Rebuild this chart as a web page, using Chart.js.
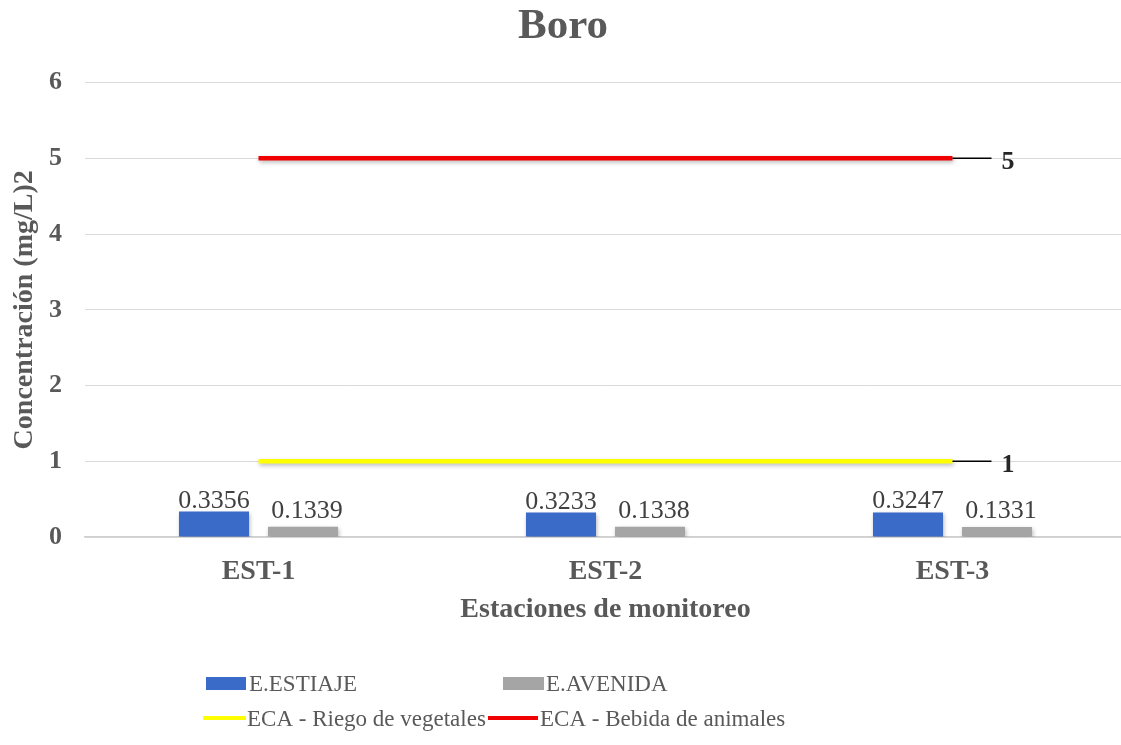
<!DOCTYPE html>
<html>
<head>
<meta charset="utf-8">
<script src="https://cdn.jsdelivr.net/npm/chart.js@4.4.1/dist/chart.umd.min.js"></script>
<style>
  html, body { margin: 0; padding: 0; background: #fff; overflow: hidden; }
  #wrap { position: relative; width: 1121px; height: 745px; overflow: hidden; }
  #c { position: absolute; left: 0; top: 0; }
</style>
</head>
<body>
<div id="wrap">
  <canvas id="c" width="1131" height="745"></canvas>
</div>
<script>
// ---- data ----
const categories = ['EST-1', 'EST-2', 'EST-3'];
const estiaje = [0.3356, 0.3233, 0.3247];
const avenida = [0.1339, 0.1338, 0.1331];
const ecaRiego = [1, 1, 1];
const ecaBebida = [5, 5, 5];
const seriesNames = ['E.ESTIAJE', 'E.AVENIDA', 'ECA - Riego de vegetales', 'ECA - Bebida de animales'];
const yMin = 0, yMax = 6, yStep = 1;

const FONT = "'Liberation Serif', 'Times New Roman', serif";
const BLUE = '#3B6BC8', GRAY = '#A5A5A5', YELLOW = '#FFFF00', RED = '#F00000';

const shadowPlugin = {
  id: 'shadow',
  beforeDatasetDraw(chart) {
    const ctx = chart.ctx;
    ctx.save();
    ctx.shadowColor = 'rgba(0,0,0,0.28)';
    ctx.shadowBlur = 4;
    ctx.shadowOffsetX = 1;
    ctx.shadowOffsetY = 2;
  },
  afterDatasetDraw(chart) { chart.ctx.restore(); }
};

const labelOffsets = [{ dx: 0, dy: 4 }, { dx: 4, dy: 9 }];

const labelPlugin = {
  id: 'valueLabels',
  afterDatasetsDraw(chart) {
    const ctx = chart.ctx;
    ctx.save();
    chart.data.datasets.forEach((ds, i) => {
      const meta = chart.getDatasetMeta(i);
      if (ds.type === 'bar') {
        const off = labelOffsets[i];
        ctx.font = '26px ' + FONT;
        ctx.fillStyle = '#404040';
        ctx.textAlign = 'center';
        ctx.textBaseline = 'alphabetic';
        meta.data.forEach((el, j) => {
          ctx.fillText(ds.data[j].toFixed(4), el.x + off.dx, el.y - off.dy);
        });
      } else {
        const last = meta.data[meta.data.length - 1];
        ctx.strokeStyle = '#000';
        ctx.lineWidth = 1.5;
        ctx.beginPath();
        ctx.moveTo(last.x, last.y);
        ctx.lineTo(last.x + 39, last.y);
        ctx.stroke();
        ctx.font = 'bold 26px ' + FONT;
        ctx.fillStyle = '#262626';
        ctx.textAlign = 'left';
        ctx.textBaseline = 'alphabetic';
        ctx.fillText(String(ds.data[ds.data.length - 1]), last.x + 49, last.y + 11);
      }
    });
    ctx.restore();
  }
};

// legend layout (2 x 2 grid)
const legendPos = [
  { sx: 206, sw: 40, sy: 677, sh: 13, tx: 249, ty: 691 },
  { sx: 503, sw: 41, sy: 677, sh: 13, tx: 546, ty: 691 },
  { sx: 203, sw: 43, sy: 716, sh: 4, tx: 247, ty: 726 },
  { sx: 488, sw: 50, sy: 716, sh: 4, tx: 540, ty: 726 }
];

const legendPlugin = {
  id: 'gridLegend',
  afterDraw(chart) {
    const ctx = chart.ctx;
    ctx.save();
    ctx.font = '23px ' + FONT;
    ctx.fillStyle = '#595959';
    ctx.textAlign = 'left';
    ctx.textBaseline = 'alphabetic';
    chart.data.datasets.forEach((ds, i) => {
      const p = legendPos[i];
      ctx.fillStyle = ds.type === 'bar' ? ds.backgroundColor : ds.borderColor;
      ctx.fillRect(p.sx, p.sy, p.sw, p.sh);
      ctx.fillStyle = '#595959';
      ctx.fillText(ds.label, p.tx, p.ty);
    });
    ctx.restore();
  }
};

const chart = new Chart(document.getElementById('c'), {
  data: {
    labels: categories,
    datasets: [
      { type: 'bar', label: seriesNames[0], data: estiaje, backgroundColor: BLUE, order: 2,
        categoryPercentage: 0.513, barPercentage: 0.787 },
      { type: 'bar', label: seriesNames[1], data: avenida, backgroundColor: GRAY, order: 2,
        categoryPercentage: 0.513, barPercentage: 0.787 },
      { type: 'line', label: seriesNames[2], data: ecaRiego, borderColor: YELLOW, backgroundColor: YELLOW,
        borderWidth: 4.5, pointRadius: 0, order: 1 },
      { type: 'line', label: seriesNames[3], data: ecaBebida, borderColor: RED, backgroundColor: RED,
        borderWidth: 4.5, pointRadius: 0, order: 1 }
    ]
  },
  options: {
    responsive: false,
    animation: false,
    devicePixelRatio: 1,
    layout: { padding: { left: 0, right: 5, top: 0, bottom: 118 } },
    plugins: {
      legend: { display: false },
      tooltip: { enabled: false },
      title: {
        display: true, text: 'Boro', color: '#595959',
        font: { family: FONT, size: 43, weight: 'bold' },
        padding: { top: 1, bottom: 30 }
      }
    },
    scales: {
      x: {
        afterFit(scale) { scale.height = 90; },
        grid: { display: false, drawTicks: false },
        border: { color: '#D0D0D0', width: 1.5 },
        ticks: { color: '#595959', font: { family: FONT, size: 28, weight: 'bold' }, padding: 18 },
        title: { display: true, text: 'Estaciones de monitoreo', color: '#595959',
          font: { family: FONT, size: 28, weight: 'bold' }, padding: { top: 0, bottom: 0 } }
      },
      y: {
        afterFit(scale) { scale.width = 85; },
        min: yMin, max: yMax,
        grid: { color: '#D9D9D9', lineWidth: 1, drawTicks: false },
        border: { display: false },
        ticks: { stepSize: yStep, color: '#595959', font: { family: FONT, size: 26, weight: 'bold' }, padding: 23 },
        title: { display: true, text: 'Concentración (mg/L)2', color: '#595959',
          font: { family: FONT, size: 28, weight: 'bold' }, padding: { top: 8, bottom: 7 } }
      }
    }
  },
  plugins: [shadowPlugin, labelPlugin, legendPlugin]
});
</script>
</body>
</html>
